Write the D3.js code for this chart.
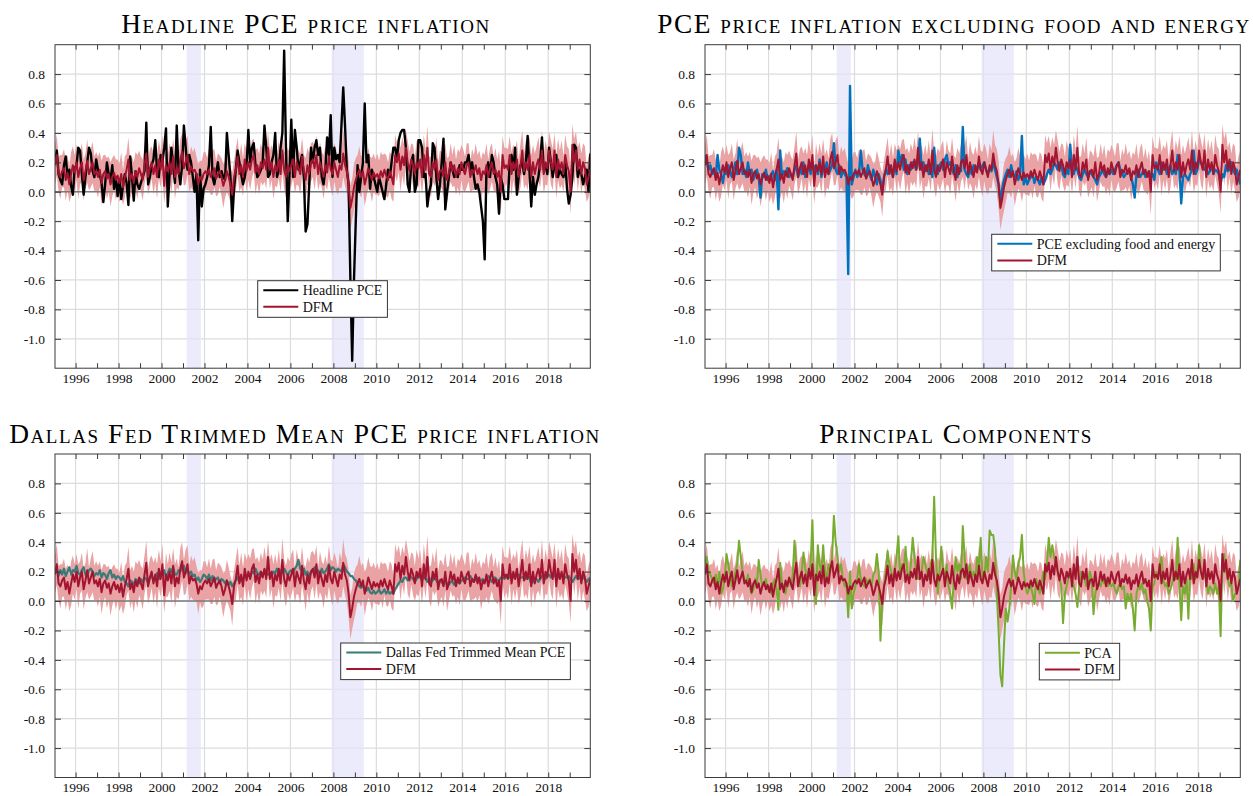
<!DOCTYPE html>
<html>
<meta charset=utf-8>
<head>
<style>
  body { margin: 0; background: #fff; }
  text { font-family: "Liberation Serif", "DejaVu Serif", serif; }
</style>
</head>
<body>
<svg id="canvas" width="1253" height="796"></svg>
<script src="https://d3js.org/d3.v7.min.js"></script>
<script>

// monthly data, Jan 1995 - Dec 2019 (one row per year)
var dfm = [
  0.18,0.25,0.12,0.10,0.14,0.16,0.08,0.13,0.05,0.12,0.18,0.13,
  0.20,0.10,0.16,0.20,0.08,0.14,0.21,0.12,0.16,0.20,0.12,0.14,
  0.10,0.15,0.06,0.12,0.14,0.09,0.12,0.05,0.10,0.13,0.08,0.11,
  0.06,0.12,0.03,0.10,0.15,0.22,0.08,0.12,0.06,0.14,0.10,0.16,
  0.12,0.08,0.18,0.26,0.10,0.16,0.20,0.12,0.18,0.10,0.22,0.15,
  0.25,0.04,0.18,0.14,0.20,0.12,0.24,0.10,0.16,0.12,0.22,0.27,
  0.16,0.20,0.25,0.12,0.17,0.14,0.15,0.12,0.05,0.10,0.08,0.12,
  0.14,0.12,0.15,0.10,0.13,0.16,0.09,0.12,0.14,0.10,0.04,0.08,
  0.14,0.10,0.05,-0.02,0.10,0.15,0.24,0.12,0.18,0.10,0.22,0.14,
  0.20,0.15,0.22,0.25,0.13,0.18,0.12,0.20,0.16,0.22,0.15,0.30,
  0.15,0.20,0.10,0.18,0.14,0.22,0.12,0.28,0.15,0.10,0.18,0.14,
  0.18,0.22,0.10,0.20,0.16,0.12,0.24,0.14,0.08,0.18,0.12,0.20,
  0.22,0.16,0.25,0.12,0.20,0.15,0.10,0.18,0.13,0.24,0.15,0.12,
  0.20,0.15,0.10,0.18,0.15,0.26,0.18,0.14,0.05,-0.11,-0.05,0.03,
  0.08,0.12,0.15,0.10,0.14,0.05,0.10,0.16,0.12,0.08,0.13,0.10,
  0.12,0.09,0.14,0.10,0.15,0.11,0.08,0.14,0.10,0.05,0.25,0.20,
  0.26,0.15,0.24,0.18,0.30,0.20,0.14,0.22,0.18,0.12,0.20,0.16,
  0.22,0.10,0.25,0.15,0.30,0.12,0.10,0.20,0.15,0.22,0.08,0.14,
  0.15,0.10,0.20,0.08,0.12,0.20,0.14,0.18,0.10,0.16,0.12,0.20,
  0.15,0.12,0.18,0.20,0.10,0.15,0.13,0.18,0.12,0.16,0.08,0.14,
  0.12,0.18,0.10,0.16,0.20,0.12,0.15,0.10,0.14,0.00,0.25,0.16,
  0.18,0.15,0.25,0.12,0.20,0.15,0.22,0.10,0.18,0.28,0.14,0.20,
  0.15,0.25,0.10,0.20,0.12,0.18,0.22,0.15,0.28,0.12,0.20,0.16,
  0.28,0.20,0.15,0.28,0.10,0.22,0.15,0.20,0.12,0.25,0.18,0.14,
  0.00,0.32,0.20,0.28,0.15,0.22,0.12,0.20,0.16,0.05,0.10,0.15
];

// half width of the DFM band
var dfmBand = [
  .13,.14,.12,.15,.11,.13,.14,.12,.12,.15,.13,.12,
  .12,.15,.11,.13,.14,.12,.15,.11,.13,.14,.12,.13,
  .14,.12,.15,.13,.11,.14,.12,.15,.13,.12,.14,.11,
  .13,.15,.12,.14,.11,.15,.13,.12,.14,.13,.15,.12,
  .12,.14,.13,.15,.12,.13,.11,.14,.12,.15,.13,.12,
  .14,.12,.15,.11,.13,.14,.12,.15,.13,.11,.14,.13,
  .12,.15,.13,.12,.14,.13,.15,.12,.14,.11,.13,.15,
  .13,.11,.14,.12,.15,.13,.12,.14,.11,.13,.15,.12,
  .14,.13,.12,.15,.11,.14,.13,.12,.15,.13,.11,.14,
  .12,.14,.13,.11,.15,.12,.14,.13,.12,.15,.13,.11,
  .13,.12,.15,.14,.11,.13,.12,.15,.13,.14,.12,.13,
  .14,.13,.11,.15,.12,.14,.13,.11,.15,.12,.14,.13,
  .12,.15,.13,.11,.14,.12,.15,.13,.12,.14,.13,.15,
  .13,.14,.12,.15,.13,.16,.14,.15,.16,.15,.14,.16,
  .15,.13,.16,.14,.12,.15,.13,.14,.12,.15,.13,.12,
  .14,.12,.13,.15,.11,.14,.12,.13,.15,.12,.14,.13,
  .12,.15,.13,.14,.12,.15,.13,.11,.14,.12,.15,.13,
  .13,.12,.14,.13,.15,.12,.14,.13,.11,.15,.12,.14,
  .12,.14,.13,.15,.12,.13,.11,.14,.12,.13,.15,.12,
  .14,.12,.15,.13,.11,.14,.12,.15,.13,.12,.14,.13,
  .13,.15,.12,.14,.13,.11,.15,.12,.14,.16,.13,.14,
  .12,.14,.13,.15,.12,.14,.13,.12,.15,.14,.12,.15,
  .14,.13,.15,.12,.14,.13,.15,.12,.14,.13,.15,.12,
  .13,.15,.14,.12,.15,.14,.13,.15,.12,.14,.13,.15,
  .15,.14,.16,.13,.15,.12,.14,.13,.15,.12,.14,.13
];

var headline = [
  0.20,0.28,0.12,0.08,0.05,0.18,0.24,0.10,0.15,0.04,-0.02,0.16,
  0.18,0.30,0.28,0.12,-0.02,0.10,0.20,0.30,0.26,0.14,0.10,0.22,
  0.15,0.12,0.06,-0.07,0.05,0.20,0.12,0.08,0.18,0.02,0.10,-0.03,
  0.08,-0.05,0.04,0.12,0.06,-0.09,0.24,0.10,-0.06,0.14,0.05,0.02,
  0.06,0.10,0.14,0.47,0.05,0.10,0.18,0.22,0.35,0.14,0.10,0.25,
  0.20,0.30,0.43,-0.10,0.12,0.30,0.18,0.06,0.45,0.15,0.05,0.18,
  0.45,0.30,0.15,0.25,0.20,0.10,0.00,0.12,-0.33,0.15,-0.10,0.02,
  0.05,0.10,0.18,0.44,0.10,0.05,0.13,0.20,0.10,0.14,0.10,0.08,
  0.40,0.25,0.10,-0.20,0.02,0.15,0.28,0.20,0.12,0.05,0.10,0.18,
  0.42,0.20,0.30,0.33,0.18,0.10,0.12,0.15,0.20,0.45,0.30,0.10,
  0.12,0.20,0.25,0.40,0.10,0.15,0.30,0.40,0.96,0.30,-0.20,0.12,
  0.49,0.10,0.42,0.30,0.15,0.20,0.25,0.10,-0.27,-0.22,0.05,0.30,
  0.20,0.30,0.35,0.25,0.30,0.10,0.05,0.15,0.37,0.25,0.52,0.10,
  0.30,0.22,0.25,0.20,0.45,0.71,0.45,0.15,0.05,-0.60,-1.15,-0.60,
  -0.20,0.18,0.00,0.10,0.20,0.60,0.20,0.25,0.02,0.15,0.10,0.05,
  0.00,0.10,0.05,0.00,-0.05,0.05,0.15,0.10,0.20,0.30,0.30,0.22,
  0.35,0.40,0.42,0.42,0.30,0.05,0.00,0.20,0.25,0.00,0.05,0.35,
  0.35,0.30,0.10,0.12,-0.10,0.00,0.05,0.33,0.30,0.10,-0.05,0.05,
  0.20,0.36,-0.12,0.00,0.10,0.20,0.15,0.10,0.12,0.10,0.18,0.15,
  0.15,0.20,0.20,0.25,0.15,0.20,0.10,0.02,0.05,0.00,-0.10,-0.20,
  -0.46,0.15,0.20,0.10,0.25,0.20,0.10,0.05,-0.15,0.10,0.05,-0.05,
  -0.05,-0.05,0.20,0.25,0.15,0.30,-0.02,0.10,0.18,0.20,0.12,0.20,
  0.38,0.15,-0.10,0.10,-0.02,0.05,0.10,0.20,0.37,0.15,0.18,0.12,
  0.30,0.20,0.10,0.18,0.25,0.10,0.15,0.12,0.10,0.20,0.02,-0.08,
  -0.02,0.10,0.32,0.30,0.10,0.15,0.12,0.05,0.10,0.15,0.00,0.26
];

var core = [
  0.25,0.20,0.15,0.18,0.12,0.14,0.10,0.25,0.15,0.12,0.06,0.14,
  0.12,0.18,0.14,0.10,0.15,0.20,0.12,0.30,0.25,0.12,0.15,0.10,
  0.20,0.12,0.15,0.08,0.12,0.15,0.10,-0.04,0.12,0.10,0.15,0.08,
  0.10,0.12,0.14,0.08,0.15,-0.12,0.28,0.10,0.14,0.12,0.16,0.10,
  0.12,0.10,0.15,0.18,0.10,0.16,0.12,0.20,0.10,0.14,0.18,0.12,
  0.20,0.15,0.18,0.12,0.22,0.10,0.16,0.14,0.20,0.12,0.15,0.18,
  0.33,0.15,0.12,0.18,0.10,0.14,0.12,0.10,-0.56,0.72,0.05,0.10,
  0.15,0.10,0.12,0.28,0.15,0.12,0.10,0.18,0.12,0.08,0.15,0.10,
  0.05,0.12,0.08,0.00,0.10,0.15,0.12,0.18,0.14,0.10,0.20,0.12,
  0.28,0.20,0.25,0.15,0.22,0.12,0.18,0.15,0.20,0.18,0.15,0.20,
  0.36,0.15,0.20,0.14,0.18,0.12,0.16,0.10,0.30,0.15,0.12,0.18,
  0.20,0.15,0.22,0.25,0.18,0.20,0.15,0.12,0.18,0.10,0.16,0.14,
  0.44,0.15,0.12,0.10,0.16,0.12,0.18,0.14,0.15,0.20,0.15,0.18,
  0.20,0.15,0.12,0.16,0.14,0.20,0.15,0.10,0.05,-0.07,0.02,0.08,
  0.12,0.15,0.10,0.18,0.12,0.10,0.14,0.08,0.12,0.38,0.05,0.10,
  0.05,0.08,0.10,0.12,0.06,0.10,0.08,0.05,0.10,0.05,0.08,0.12,
  0.15,0.12,0.15,0.20,0.18,0.15,0.20,0.18,0.12,0.10,0.15,0.12,
  0.32,0.15,0.12,0.18,0.15,0.10,0.08,0.12,0.15,0.12,0.10,0.14,
  0.12,0.10,0.08,0.05,0.10,0.12,0.15,0.12,0.10,0.14,0.12,0.15,
  0.12,0.15,0.18,0.20,0.15,0.12,0.10,0.12,0.14,0.15,0.10,0.05,
  -0.04,0.12,0.15,0.10,0.12,0.15,0.10,0.12,0.14,0.10,0.12,0.08,
  0.20,0.15,0.12,0.20,0.15,0.18,0.12,0.15,0.18,0.12,0.15,0.12,
  0.25,0.15,-0.08,0.10,0.12,0.10,0.08,0.12,0.15,0.28,0.12,0.15,
  0.22,0.20,0.18,0.15,0.16,0.12,0.14,0.18,0.12,0.15,0.14,0.12,
  0.05,0.12,0.10,0.18,0.14,0.15,0.20,0.15,0.12,0.15,0.10,0.05
];

var trimmed = [
  0.20,0.22,0.17,0.21,0.18,0.22,0.17,0.20,0.23,0.18,0.21,0.20,
  0.24,0.19,0.18,0.21,0.23,0.18,0.17,0.21,0.22,0.20,0.17,0.19,
  0.18,0.21,0.16,0.19,0.18,0.15,0.19,0.21,0.16,0.18,0.15,0.17,
  0.16,0.14,0.17,0.13,0.12,0.10,0.14,0.13,0.11,0.15,0.14,0.12,
  0.15,0.13,0.16,0.15,0.12,0.16,0.17,0.14,0.16,0.19,0.15,0.17,
  0.18,0.21,0.16,0.19,0.22,0.20,0.23,0.18,0.18,0.21,0.20,0.23,
  0.24,0.19,0.22,0.18,0.20,0.17,0.18,0.14,0.16,0.13,0.15,0.18,
  0.17,0.15,0.18,0.14,0.17,0.13,0.15,0.16,0.12,0.15,0.14,0.12,
  0.14,0.11,0.13,0.10,0.12,0.14,0.16,0.13,0.16,0.15,0.18,0.16,
  0.18,0.16,0.20,0.19,0.22,0.19,0.18,0.20,0.17,0.21,0.19,0.18,
  0.19,0.17,0.20,0.19,0.22,0.18,0.21,0.19,0.22,0.20,0.17,0.20,
  0.21,0.19,0.22,0.24,0.28,0.22,0.20,0.22,0.18,0.20,0.17,0.20,
  0.20,0.23,0.19,0.21,0.18,0.22,0.19,0.20,0.22,0.25,0.21,0.23,
  0.22,0.20,0.22,0.21,0.20,0.25,0.23,0.20,0.19,0.17,0.17,0.15,
  0.14,0.12,0.10,0.09,0.11,0.08,0.07,0.09,0.06,0.05,0.07,0.05,
  0.06,0.08,0.05,0.06,0.08,0.05,0.07,0.05,0.06,0.05,0.08,0.10,
  0.12,0.14,0.13,0.16,0.16,0.14,0.18,0.16,0.15,0.13,0.15,0.17,
  0.16,0.14,0.17,0.15,0.13,0.16,0.13,0.14,0.16,0.14,0.12,0.14,
  0.13,0.11,0.14,0.12,0.11,0.13,0.13,0.11,0.14,0.13,0.12,0.14,
  0.14,0.16,0.15,0.15,0.17,0.15,0.13,0.15,0.16,0.14,0.14,0.15,
  0.13,0.15,0.17,0.15,0.13,0.16,0.16,0.14,0.14,0.16,0.16,0.15,
  0.16,0.18,0.16,0.18,0.16,0.16,0.18,0.18,0.16,0.16,0.17,0.15,
  0.17,0.16,0.12,0.13,0.15,0.15,0.13,0.15,0.17,0.17,0.15,0.17,
  0.18,0.16,0.19,0.17,0.18,0.16,0.16,0.18,0.18,0.16,0.16,0.17,
  0.15,0.13,0.15,0.17,0.15,0.16,0.14,0.16,0.15,0.13,0.15,0.16
];

var pca = [
  0.25,0.30,0.20,0.18,0.15,0.12,0.18,0.10,0.20,0.05,0.08,0.15,
  0.32,0.25,0.18,0.10,0.12,0.20,0.25,0.41,0.30,0.20,0.15,0.12,
  0.18,0.10,0.05,0.08,0.15,0.12,0.28,0.18,0.10,0.12,0.15,0.08,
  0.10,0.05,0.12,0.15,0.08,-0.06,0.26,0.12,0.10,0.05,0.12,0.15,
  0.10,0.18,0.41,0.25,0.15,0.10,0.20,0.33,0.22,0.15,0.20,0.25,
  0.55,0.10,-0.02,0.38,0.25,0.20,0.38,0.20,0.15,0.25,0.20,0.30,
  0.58,0.40,0.30,0.20,0.25,0.15,0.10,0.12,-0.11,0.20,-0.05,0.05,
  0.10,0.15,0.25,0.15,0.12,0.10,0.15,0.12,0.15,0.10,0.18,0.20,
  0.32,0.20,-0.27,0.00,0.10,0.20,0.34,0.25,0.20,0.15,0.20,0.30,
  0.44,0.15,0.25,0.20,0.37,0.20,0.15,0.25,0.43,0.30,0.20,0.15,
  0.15,0.20,0.30,0.25,0.20,0.15,0.25,0.30,0.71,0.30,0.05,0.20,
  0.37,0.20,0.15,0.25,0.10,0.05,-0.05,0.15,0.30,0.20,0.25,0.15,
  0.51,0.30,0.15,0.20,0.25,0.15,0.20,0.15,0.30,0.22,0.43,0.15,
  0.15,0.30,0.20,0.48,0.45,0.45,0.35,0.05,-0.20,-0.50,-0.58,-0.30,
  -0.05,-0.14,-0.05,0.10,0.31,0.20,0.15,0.25,0.30,0.45,0.20,0.10,
  0.05,0.08,0.10,0.05,-0.02,0.15,0.10,0.05,0.12,0.20,0.15,0.25,
  0.43,0.30,0.38,0.30,0.25,0.20,0.15,0.10,-0.15,0.05,0.10,0.15,
  0.20,0.15,0.10,0.05,-0.04,0.10,0.20,0.18,0.15,0.10,0.12,0.20,
  0.15,-0.09,0.05,0.10,0.12,0.10,0.15,0.12,0.15,0.10,0.12,0.10,
  0.12,0.08,0.05,0.10,0.12,0.08,0.10,-0.05,0.05,0.00,0.05,-0.05,
  -0.20,0.05,0.10,0.08,0.12,0.05,0.08,0.00,-0.05,-0.20,0.10,0.12,
  0.20,0.15,0.25,0.30,0.15,0.10,0.12,0.05,0.08,0.12,0.20,0.15,
  0.43,0.10,-0.13,0.10,0.05,0.15,-0.12,0.20,0.15,0.25,0.15,0.20,
  0.38,0.20,0.15,0.18,0.15,0.05,0.10,0.08,0.05,0.12,0.05,0.10,
  -0.24,0.25,0.32,0.20,0.15,0.10,0.12,0.00,0.05,0.05,0.10,0.28
];

var recessions = [[2001 + 2/12, 2001 + 10/12], [2007 + 11/12, 2009 + 5/12]];
var yTickValues = [-1.0, -0.8, -0.6, -0.4, -0.2, 0.0, 0.2, 0.4, 0.6, 0.8];
var yearTicks = d3.range(1996, 2020);

var startYear = 1995;
function monthPos(i) { return startYear + (i + 0.5) / 12; }

var panels = [
  {title: 'Headline PCE price inflation', series: headline, color: '#000000', width: 2.4,
   label: 'Headline PCE', left: 55, top: 44.7, titleX: 306, titleW: 368, legX: 202.7, legY: 236},
  {title: 'PCE price inflation excluding food and energy', series: core, color: '#0072bd', width: 2.4,
   label: 'PCE excluding food and energy', left: 705, top: 44.7, titleX: 954, titleW: 592, legX: 286.7, legY: 189.6},
  {title: 'Dallas Fed Trimmed Mean PCE price inflation', series: trimmed, color: '#3b7a78', width: 2.2,
   label: 'Dallas Fed Trimmed Mean PCE', left: 55, top: 454, titleX: 305, titleW: 590, legX: 285.7, legY: 189},
  {title: 'Principal Components', series: pca, color: '#77ac30', width: 2.0,
   label: 'PCA', left: 705, top: 454, titleX: 956, titleW: 272, legX: 334.3, legY: 189.3}
];

var W = 535.3, H = 323.5;
var serif = '"Liberation Serif", "DejaVu Serif", serif';
var svg = d3.select('#canvas');
svg.append('rect').attr('width', 1253).attr('height', 796).attr('fill', '#fff');

panels.forEach(function(p, k) {
  var x = d3.scaleLinear().domain([monthPos(0), monthPos(dfm.length - 1)]).range([p.left, p.left + W]);
  var y = d3.scaleLinear().domain([-1.2, 1.0]).range([p.top + H, p.top]);
  var g = svg.append('g');

  g.append('clipPath').attr('id', 'clip' + k)
    .append('rect').attr('x', p.left).attr('y', p.top).attr('width', W).attr('height', H);

  // grid
  g.selectAll('.hg').data(yTickValues).join('line')
    .attr('x1', p.left).attr('x2', p.left + W)
    .attr('y1', function(d) { return y(d); }).attr('y2', function(d) { return y(d); })
    .attr('stroke', '#dcdcdc').attr('stroke-width', 1.2);
  g.selectAll('.vg').data(yearTicks.filter(function(d) { return d % 2 === 0; })).join('line')
    .attr('y1', p.top).attr('y2', p.top + H)
    .attr('x1', function(d) { return x(d); }).attr('x2', function(d) { return x(d); })
    .attr('stroke', '#dcdcdc').attr('stroke-width', 1.2);

  // recessions
  g.selectAll('.rec').data(recessions).join('rect')
    .attr('x', function(d) { return x(d[0]); })
    .attr('width', function(d) { return x(d[1]) - x(d[0]); })
    .attr('y', p.top).attr('height', H)
    .attr('fill', '#e2e2fa').attr('opacity', 0.7);

  var plot = g.append('g').attr('clip-path', 'url(#clip' + k + ')');

  var band = d3.area()
    .x(function(d, i) { return x(monthPos(i)); })
    .y0(function(d, i) { return y(d - dfmBand[i]); })
    .y1(function(d, i) { return y(d + dfmBand[i]); });
  plot.append('path').datum(dfm).attr('d', band).attr('fill', '#e9a3a5');

  plot.append('line')
    .attr('x1', p.left).attr('x2', p.left + W).attr('y1', y(0)).attr('y2', y(0))
    .attr('stroke', '#7a7a7a').attr('stroke-width', 1.6);

  var line = d3.line().x(function(d, i) { return x(monthPos(i)); }).y(function(d) { return y(d); });
  plot.append('path').datum(p.series).attr('d', line)
    .attr('fill', 'none').attr('stroke', p.color).attr('stroke-width', p.width)
    .attr('stroke-linejoin', 'round');
  plot.append('path').datum(dfm).attr('d', line)
    .attr('fill', 'none').attr('stroke', '#a2142f').attr('stroke-width', 2)
    .attr('stroke-linejoin', 'round');

  // axes
  var bottom = g.append('g').attr('transform', 'translate(0,' + (p.top + H) + ')')
    .call(d3.axisBottom(x).tickValues(yearTicks).tickSizeInner(-5).tickSizeOuter(0).tickPadding(5)
      .tickFormat(function(d) { return d % 2 === 0 ? d : ''; }));
  g.append('g').attr('transform', 'translate(0,' + p.top + ')')
    .call(d3.axisTop(x).tickValues(yearTicks).tickSizeInner(-5).tickSizeOuter(0).tickFormat(''));
  var left = g.append('g').attr('transform', 'translate(' + p.left + ',0)')
    .call(d3.axisLeft(y).tickValues(yTickValues).tickSizeInner(-6).tickSizeOuter(0).tickPadding(10)
      .tickFormat(function(d) { return d3.format('.1f')(d).replace('\u2212', '-'); }));
  g.append('g').attr('transform', 'translate(' + (p.left + W) + ',0)')
    .call(d3.axisRight(y).tickValues(yTickValues).tickSizeInner(-6).tickSizeOuter(0).tickFormat(''));
  g.selectAll('.domain').remove();
  g.selectAll('.tick line').attr('stroke', '#3a3a3a');
  [bottom, left].forEach(function(a) {
    a.attr('font-family', null).attr('font-size', null);
    a.selectAll('text').style('font-family', serif).style('font-size', '13.5px').attr('fill', '#111');
  });

  g.append('rect').attr('x', p.left).attr('y', p.top).attr('width', W).attr('height', H)
    .attr('fill', 'none').attr('stroke', '#3a3a3a').attr('stroke-width', 1);

  // title in small caps, fitted to the reference width
  var t = g.append('text').attr('x', p.titleX).attr('y', p.top - 11.5)
    .attr('text-anchor', 'middle').style('font-size', '25px').style('font-variant', 'small-caps')
    .text(p.title);
  var tw = t.node().getComputedTextLength();
  var fs = 25 * Math.sqrt(p.titleW / tw);
  t.style('font-size', fs + 'px');
  tw = t.node().getComputedTextLength();
  t.attr('letter-spacing', (p.titleW - tw) / (p.title.length - 1));

  // legend
  var lx = p.left + p.legX, ly = p.top + p.legY;
  var leg = g.append('g');
  var box = leg.append('rect').attr('x', lx).attr('y', ly).attr('height', 36.6)
    .attr('fill', '#fff').attr('stroke', '#333').attr('stroke-width', 1);
  var items = [{label: p.label, color: p.color}, {label: 'DFM', color: '#a2142f'}];
  var maxW = 0;
  items.forEach(function(it, j) {
    var yy = ly + 9.5 + j * 16.6;
    leg.append('line').attr('x1', lx + 5.6).attr('x2', lx + 40.6).attr('y1', yy).attr('y2', yy)
      .attr('stroke', it.color).attr('stroke-width', 2);
    var tx = leg.append('text').attr('x', lx + 45).attr('y', yy + 4.8).style('font-size', '14px')
      .attr('fill', '#111').text(it.label);
    maxW = Math.max(maxW, tx.node().getComputedTextLength());
  });
  box.attr('width', 45 + maxW + 5);
});

</script>
</body>
</html>
